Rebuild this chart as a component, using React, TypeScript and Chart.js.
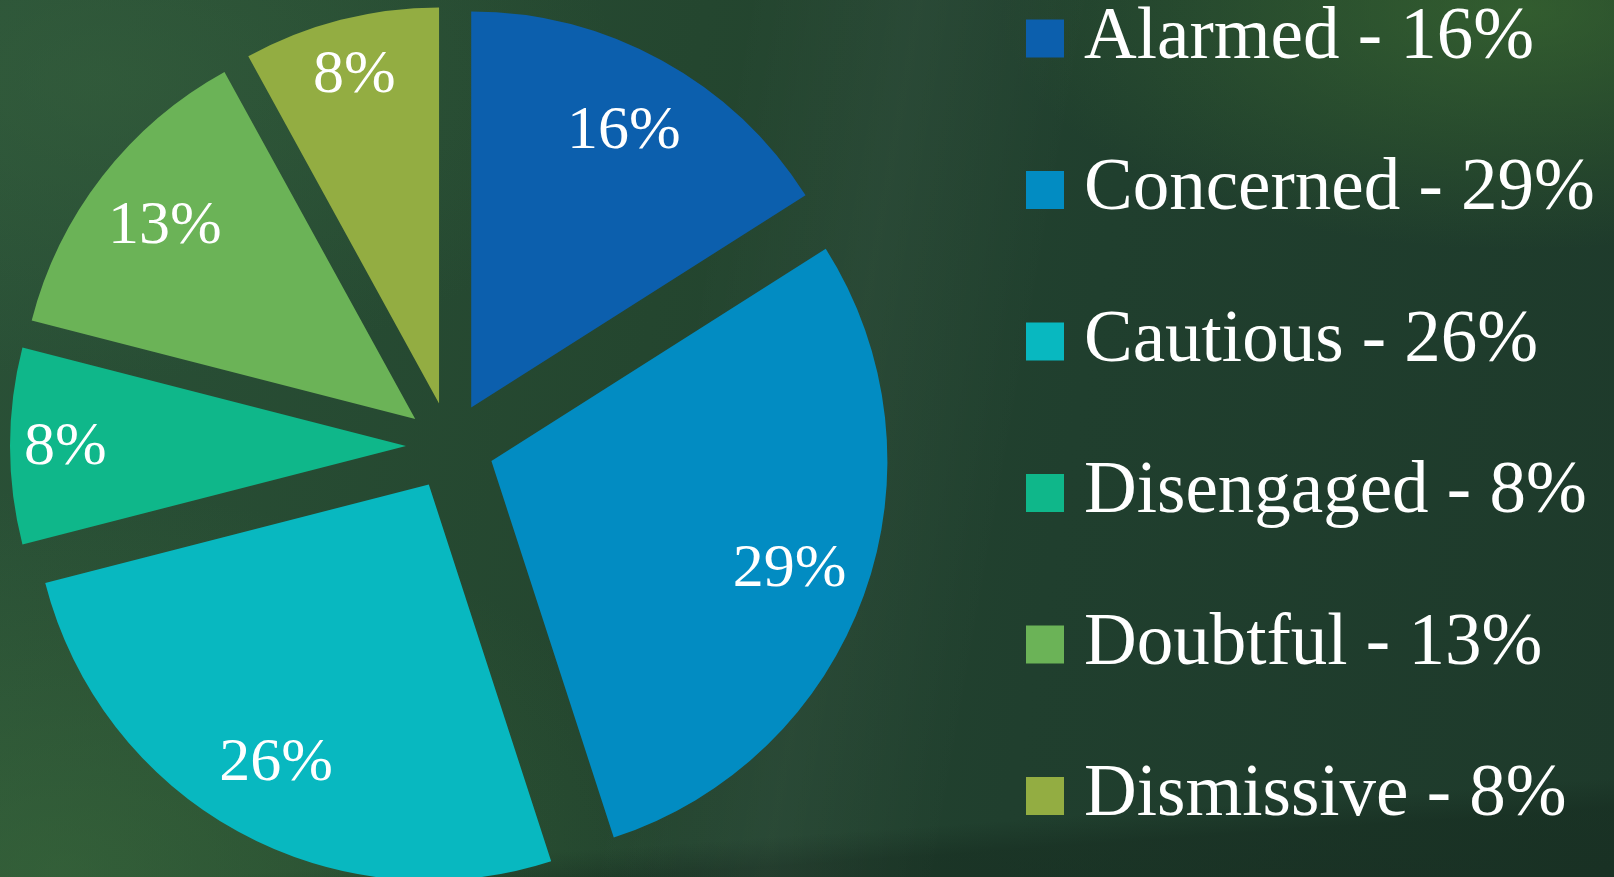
import React, { useEffect, useRef } from "react";
import { Chart, registerables } from "chart.js";

Chart.register(...registerables);

const categories = ["Alarmed", "Concerned", "Cautious", "Disengaged", "Doubtful", "Dismissive"];
const percentValues = [16, 29, 26, 8, 13, 8];
const sliceColors = ["#0C5FAD", "#028CC2", "#08B8C0", "#0FB78A", "#6BB357", "#93AD42"];

const W = 1614;
const H = 877;
const EXPLODE = 44;
const SERIF = "'Liberation Serif', 'Times New Roman', serif";

const explodedArcs = {
  id: "explodedArcs",
  beforeDatasetDraw(chart: any, args: any) {
    const ctx = chart.ctx;
    const meta = args.meta;
    meta.data.forEach((arc: any) => {
      const mid = (arc.startAngle + arc.endAngle) / 2;
      ctx.save();
      ctx.translate(Math.cos(mid) * EXPLODE, Math.sin(mid) * EXPLODE);
      arc.draw(ctx);
      ctx.restore();
    });
    return false;
  },
  afterDatasetsDraw(chart: any) {
    const ctx = chart.ctx;
    const meta = chart.getDatasetMeta(0);
    const values = chart.data.datasets[0].data;
    ctx.save();
    ctx.fillStyle = "#ffffff";
    ctx.font = `62px ${SERIF}`;
    ctx.textAlign = "center";
    ctx.textBaseline = "middle";
    meta.data.forEach((arc: any, i: number) => {
      const mid = (arc.startAngle + arc.endAngle) / 2;
      const f = values[i] < 10 ? 0.86 : 0.8;
      const d = EXPLODE + arc.outerRadius * f;
      ctx.fillText(values[i] + "%", arc.x + Math.cos(mid) * d, arc.y + Math.sin(mid) * d + 2);
    });
    ctx.restore();
  },
};

const sideLegend = {
  id: "sideLegend",
  afterDraw(chart: any) {
    const ctx = chart.ctx;
    const labels = chart.data.labels;
    const ds = chart.data.datasets[0];
    ctx.save();
    ctx.font = `73px ${SERIF}`;
    ctx.textAlign = "left";
    ctx.textBaseline = "alphabetic";
    labels.forEach((lab: string, i: number) => {
      const base = 57.5 + i * 151.5;
      ctx.fillStyle = ds.backgroundColor[i];
      ctx.fillRect(1026, base - 38, 38, 38);
      ctx.fillStyle = "#ffffff";
      ctx.fillText(`${lab} - ${ds.data[i]}%`, 1084, base);
    });
    ctx.restore();
  },
};

export default function App() {
  const ref = useRef<HTMLCanvasElement | null>(null);
  useEffect(() => {
    if (!ref.current) return;
    const chart = new Chart(ref.current, {
      type: "pie",
      data: {
        labels: categories,
        datasets: [
          {
            data: percentValues,
            backgroundColor: sliceColors,
            borderWidth: 0,
            radius: 396,
          } as any,
        ],
      },
      options: {
        responsive: false,
        animation: false,
        layout: { padding: { left: 0, right: 714, top: 15, bottom: 0 } },
        plugins: {
          legend: { display: false },
          tooltip: { enabled: false },
        },
      },
      plugins: [explodedArcs, sideLegend],
    });
    return () => chart.destroy();
  }, []);

  const bg = [
    "radial-gradient(ellipse 520px 240px at 1520px 10px, rgba(70,125,50,0.5), rgba(70,125,50,0) 100%)",
    "radial-gradient(ellipse 620px 380px at 60px 870px, rgba(62,112,60,0.5), rgba(62,112,60,0) 100%)",
    "radial-gradient(ellipse 520px 300px at 100px 80px, rgba(60,105,65,0.4), rgba(60,105,65,0) 100%)",
    "linear-gradient(100deg, rgba(0,0,0,0) 0%, rgba(0,0,0,0) 42%, rgba(255,255,255,0.035) 52%, rgba(0,0,0,0) 62%)",
    "linear-gradient(176deg, rgba(0,0,0,0) 0%, rgba(0,0,0,0) 90%, rgba(20,40,29,0.45) 93%, rgba(20,40,29,0.5) 100%)",
    "linear-gradient(100deg, #2a5137 0%, #24462f 40%, #203f2e 65%, #1e3a2b 100%)",
  ].join(", ");

  return (
    <div style={{ position: "fixed", left: 0, top: 0, width: W, height: H, background: bg, overflow: "hidden" }}>
      <canvas ref={ref} width={W} height={H} style={{ display: "block", width: W, height: H }} />
    </div>
  );
}
